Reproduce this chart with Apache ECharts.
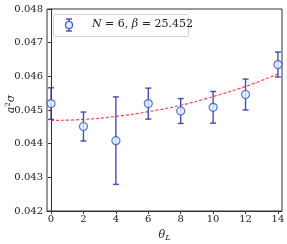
<!DOCTYPE html>
<html><head><meta charset="utf-8">
<script src="https://cdn.jsdelivr.net/npm/echarts@6/dist/echarts.min.js"></script>
<style>html,body{margin:0;padding:0;background:#fff}#c{width:287px;height:244px}</style>
</head><body><div id="c"></div>
<script>
const theta = [0, 2, 4, 6, 8, 10, 12, 14];
const sigma = [0.04519, 0.04451, 0.04409, 0.04519, 0.04497, 0.04508, 0.04546, 0.04635];
const sigmaErr = [0.00047, 0.00043, 0.00130, 0.00046, 0.00037, 0.00047, 0.00046, 0.00037];
const fitTheta = [0, 2, 4, 6, 8, 10, 12, 14];
const fitSigma = [0.04469, 0.04472, 0.04481, 0.04495, 0.04514, 0.04540, 0.04570, 0.04607];
const xTicks = [0, 2, 4, 6, 8, 10, 12, 14];
const legendLabel = ['N', ' = 6, ', 'β', ' = 25.452'];

const serif = '"DejaVu Serif", "Liberation Serif", serif';
const barColor = '#2b2fa6';
const chart = echarts.init(document.getElementById('c'), null, {renderer: 'canvas'});
chart.setOption({
  animation: false,
  grid: {left: 47, right: 5, top: 9, bottom: 33, outerBoundsMode: 'none', containLabel: false, show: true, borderColor: '#333', borderWidth: 1, backgroundColor: 'transparent'},
  xAxis: {
    type: 'value', min: -0.25, max: 14.25,
    name: '{i|θ}{s|L}', nameLocation: 'middle', nameGap: 17,
    nameTextStyle: {rich: {i: {fontFamily: serif, fontStyle: 'italic', fontSize: 11, color: '#222'}, s: {fontFamily: serif, fontStyle: 'italic', fontSize: 8, color: '#222', padding: [6, 0, 0, 0]}}},
    axisLine: {show: true, onZero: false, lineStyle: {color: '#333', width: 1}},
    axisTick: {show: true, length: 3, lineStyle: {color: '#333'}, customValues: xTicks},
    axisLabel: {color: '#222', fontFamily: serif, fontSize: 10, margin: 3, customValues: xTicks},
    splitLine: {show: false}
  },
  yAxis: {
    type: 'value', min: 0.042, max: 0.048, interval: 0.001,
    axisLine: {show: true, lineStyle: {color: '#333', width: 1}},
    axisTick: {show: true, length: 3, lineStyle: {color: '#333'}},
    axisLabel: {color: '#222', fontFamily: serif, fontSize: 10, margin: 4, formatter: v => v.toFixed(3)},
    splitLine: {show: false}
  },
  series: [
    {
      type: 'line', data: fitTheta.map((t, i) => [t, fitSigma[i]]), smooth: true, symbol: 'none',
      lineStyle: {color: '#ff3030', width: 1.2, type: [3, 2], opacity: 0.9}, z: 2
    },
    {
      type: 'custom', z: 3,
      data: theta.map((t, i) => [t, sigma[i] - sigmaErr[i], sigma[i] + sigmaErr[i]]),
      renderItem: (params, api) => {
        const lo = api.coord([api.value(0), api.value(1)]);
        const hi = api.coord([api.value(0), api.value(2)]);
        const w = 3;
        const st = {stroke: barColor, lineWidth: 1.4, opacity: 0.85};
        return {type: 'group', children: [
          {type: 'line', shape: {x1: lo[0], y1: lo[1], x2: hi[0], y2: hi[1]}, style: st},
          {type: 'line', shape: {x1: lo[0] - w, y1: lo[1], x2: lo[0] + w, y2: lo[1]}, style: st},
          {type: 'line', shape: {x1: hi[0] - w, y1: hi[1], x2: hi[0] + w, y2: hi[1]}, style: st}
        ]};
      }
    },
    {
      type: 'scatter', data: theta.map((t, i) => [t, sigma[i]]), symbol: 'circle', symbolSize: 8,
      itemStyle: {color: '#d9f3ff', borderColor: '#3a4fd0', borderWidth: 1.2}, z: 4
    }
  ],
  graphic: [
    {type: 'text', x: 11, y: 104, rotation: Math.PI / 2, z: 12, style: {
      text: '{i|a}{s|2}{i|σ}', align: 'center', verticalAlign: 'middle',
      rich: {i: {fontFamily: serif, fontStyle: 'italic', fontSize: 11, fill: '#222'}, s: {fontFamily: serif, fontSize: 7, fill: '#222', padding: [0, 0, 6, 0]}}
    }},
    {type: 'rect', left: 53, top: 14, shape: {width: 135, height: 22, r: 2}, style: {fill: 'rgba(255,255,255,0.85)', stroke: '#d0d0d0', lineWidth: 1}, z: 10},
    {type: 'line', shape: {x1: 69, y1: 19, x2: 69, y2: 31}, style: {stroke: barColor, lineWidth: 1.4, opacity: 0.85}, z: 11},
    {type: 'line', shape: {x1: 66, y1: 19, x2: 72, y2: 19}, style: {stroke: barColor, lineWidth: 1.4, opacity: 0.85}, z: 11},
    {type: 'line', shape: {x1: 66, y1: 31, x2: 72, y2: 31}, style: {stroke: barColor, lineWidth: 1.4, opacity: 0.85}, z: 11},
    {type: 'circle', shape: {cx: 69, cy: 25, r: 3.5}, style: {fill: '#d9f3ff', stroke: '#3a4fd0', lineWidth: 1.2}, z: 12},
    {type: 'text', left: 92, top: 19, z: 12, style: {
      text: '{i|' + legendLabel[0] + '}{n|' + legendLabel[1] + '}{i|' + legendLabel[2] + '}{n|' + legendLabel[3] + '}',
      rich: {i: {fontFamily: serif, fontStyle: 'italic', fontSize: 11, fill: '#222'}, n: {fontFamily: serif, fontSize: 11, fill: '#222'}}
    }}
  ]
});
</script></body></html>
